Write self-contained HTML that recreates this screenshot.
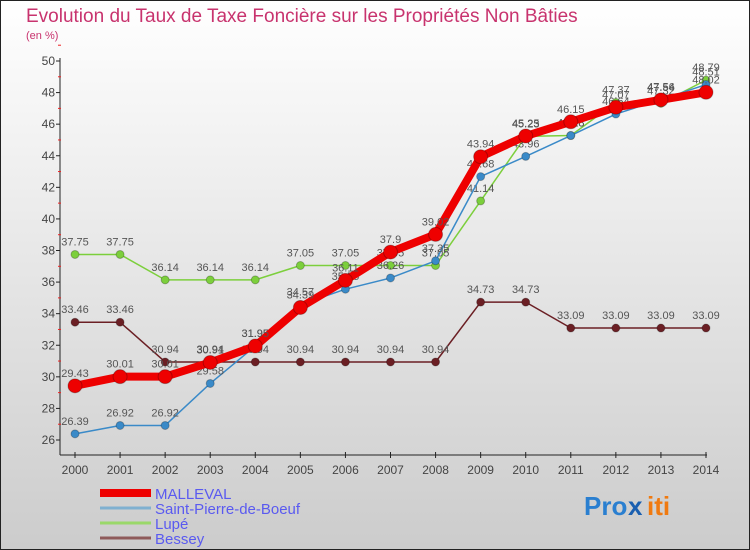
<!DOCTYPE html>
<html><head><meta charset="utf-8"><style>
body{margin:0;width:750px;height:550px;overflow:hidden;font-family:"Liberation Sans",sans-serif}
svg{display:block}
</style></head><body>
<svg id="chart" width="750" height="550">
<defs><linearGradient id="bg" x1="0" y1="0" x2="0" y2="1"><stop offset="0" stop-color="#ffffff"/><stop offset="1" stop-color="#cccccc"/></linearGradient></defs>
<rect x="0.5" y="0.5" width="749" height="549" fill="url(#bg)" stroke="#222"/>
<text x="26" y="22" font-size="19" fill="#c8336e">Evolution du Taux de Taxe Foncière sur les Propriétés Non Bâties</text>
<text x="26" y="39" font-size="11" fill="#c8336e">(en %)</text>
<g id="axes"></g><g id="series"></g><g id="legend"></g>
<g font-size="26" font-weight="bold">
<text x="584" y="515" fill="#2a7fd0">Pro</text><text x="628" y="515" fill="#1a5fb0">x</text><text x="647" y="515" fill="#f07a10">iti</text>
</g>
</svg>
<script>
const years=[2000,2001,2002,2003,2004,2005,2006,2007,2008,2009,2010,2011,2012,2013,2014];
const yTicks=[26,28,30,32,34,36,38,40,42,44,46,48,50];
const malleval=[29.43,30.01,30.01,30.91,31.95,34.39,36.11,37.9,39.02,43.94,45.25,46.15,47.07,47.54,48.02];
const saintPierre=[26.39,26.92,26.92,29.58,31.95,34.57,35.55,36.26,37.35,42.68,43.96,45.28,46.64,47.56,48.51];
const lupe=[37.75,37.75,36.14,36.14,36.14,37.05,37.05,37.05,37.05,41.14,45.23,45.28,47.37,47.32,48.79];
const bessey=[33.46,33.46,30.94,30.94,30.94,30.94,30.94,30.94,30.94,34.73,34.73,33.09,33.09,33.09,33.09];
const NS="http://www.w3.org/2000/svg";
const xs=i=>75+i*(706-75)/(years.length-1);
const ys=v=>440-(v-26)*(440-61)/24;
function mk(t,a,p){const e=document.createElementNS(NS,t);for(const k in a)e.setAttribute(k,a[k]);p.appendChild(e);return e;}
const ax=document.getElementById('axes');
const yl=mk('line',{x1:60,y1:58,x2:60,y2:455,stroke:'#222'},ax);


const xl=mk('line',{x1:60,y1:455,x2:707,y2:455,stroke:'#222'},ax);


yTicks.forEach(v=>{mk('line',{x1:56,x2:60,y1:ys(v),y2:ys(v),stroke:'#222'},ax);
mk('line',{x1:58,x2:61,y1:ys(v+1),y2:ys(v+1),stroke:'#e22'},ax);
const t=mk('text',{x:55,y:ys(v)+4,'font-size':12,'text-anchor':'end',fill:'#444'},ax);t.textContent=v;

});
years.forEach((y,i)=>{mk('line',{x1:xs(i),x2:xs(i),y1:452,y2:458,stroke:'#222'},ax);
const t=mk('text',{x:xs(i),y:474,'font-size':12,'text-anchor':'middle',fill:'#444'},ax);t.textContent=y;

});
const sg=document.getElementById('series');
function series(data,color,w,r,name){const g=mk('g',{},sg);


mk('polyline',{points:data.map((v,i)=>xs(i)+','+ys(v)).join(' '),fill:'none',stroke:color,'stroke-width':w,'stroke-linejoin':'round'},g);
data.forEach((v,i)=>{const c=mk('circle',{cx:xs(i),cy:ys(v),r:r,fill:color,stroke:'rgba(0,0,0,0.25)'},g);


const t=mk('text',{x:xs(i),y:ys(v)-9,'font-size':11,'text-anchor':'middle',fill:'#555'},g);t.textContent=v;});}
series(bessey,'#6b1f24',1.5,4,'bessey-series');
series(lupe,'#7ccf3c',1.5,4,'lupe-series');
series(saintPierre,'#3a8ac8',1.5,4,'saint-pierre-series');
series(malleval,'#ee0000',8,7,'malleval-series');
const lg=document.getElementById('legend');
const items=[['MALLEVAL','#ee0000',8],['Saint-Pierre-de-Boeuf','#7fb0d0',3],['Lupé','#9ad86a',3],['Bessey','#8e5a5a',3]];
items.forEach((it,k)=>{const y=492+k*15;const g=mk('g',{},lg);


mk('line',{x1:100,x2:151,y1:y+1,y2:y+1,stroke:it[1],'stroke-width':it[2]},g);
const t=mk('text',{x:155,y:y+7,'font-size':15,fill:'#5a5af0'},g);t.textContent=it[0];});
</script>
</body></html>
